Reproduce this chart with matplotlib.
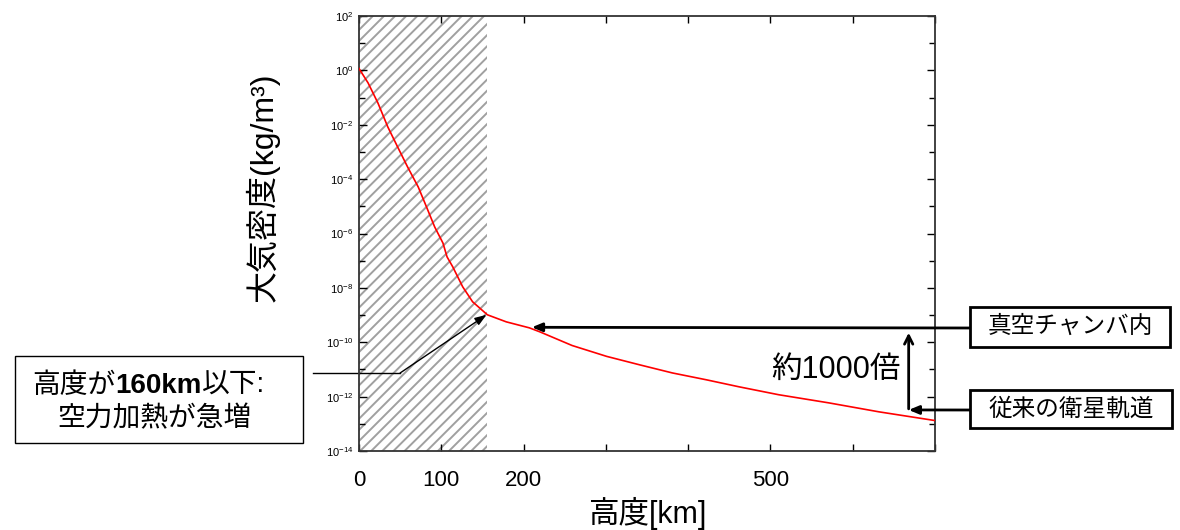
import numpy as np
import matplotlib
matplotlib.use("Agg")
import matplotlib.pyplot as plt
from matplotlib.patches import Rectangle
from matplotlib.ticker import FixedLocator, NullFormatter

plt.rcParams['font.family'] = ['Liberation Sans', 'Noto Sans CJK JP', 'DejaVu Sans']
plt.rcParams['hatch.linewidth'] = 1.4

# =========================
# DATA
# =========================
alt_km = [0, 1, 11, 23, 35, 47, 59, 72, 82, 92, 102, 107, 114, 126, 138, 156,
          179, 207, 220, 259, 301, 341, 381, 422, 462, 510, 571, 632, 700]
log_rho = [0.07, 0.02, -0.46, -1.20, -2.08, -2.82, -3.55, -4.29, -5.02, -5.76,
           -6.35, -6.86, -7.23, -7.96, -8.51, -8.99, -9.25, -9.47, -9.62,
           -10.12, -10.52, -10.83, -11.13, -11.38, -11.64, -11.93, -12.23,
           -12.56, -12.88]
rho = 10.0 ** np.array(log_rho)

heat_limit_km = 155
x_ticks = [0, 100, 200, 300, 400, 500, 600, 700]
x_ticklabels = ['0', '100', '200', '', '', '500', '', '']
y_major = [10.0 ** k for k in range(-14, 3, 2)]
y_minor = [10.0 ** k for k in range(-13, 2, 2)]

W, H = 1180, 530
def fx(px):
    return px / W
def fy(py):
    return 1 - py / H

fig = plt.figure(figsize=(W / 100, H / 100), dpi=100)
ax = fig.add_axes([fx(359), fy(451), fx(935) - fx(359), fy(16) - fy(451)])

# hatched region (below 160 km)
ax.axvspan(0, heat_limit_km, facecolor='white', edgecolor='#a0a0a0',
           hatch='///', linewidth=0, zorder=0)

ax.plot(alt_km, rho, color='red', lw=1.2, zorder=3)

ax.set_yscale('log')
ax.set_xlim(0, 700)
ax.set_ylim(1e-14, 1e2)
ax.set_xticks(x_ticks)
ax.set_xticklabels(x_ticklabels, fontsize=16)
ax.yaxis.set_major_locator(FixedLocator(y_major))
ax.yaxis.set_minor_locator(FixedLocator(y_minor))
ax.yaxis.set_minor_formatter(NullFormatter())
ax.tick_params(axis='both', which='both', direction='in', top=True, right=True)
ax.tick_params(axis='x', which='major', length=5, width=1, pad=14)
ax.tick_params(axis='y', which='major', length=6, width=1, labelsize=8, pad=4)
ax.tick_params(axis='y', which='minor', length=4, width=1)
for s in ax.spines.values():
    s.set_linewidth(1.3)
    s.set_color('#333333')

# axis labels
fig.text(fx(263), fy(187), '大気密度(kg/m³)', rotation=90, ha='center',
         va='center', fontsize=23)
fig.text(fx(647), fy(513), '高度[km]', ha='center', va='center', fontsize=22)

# =========================
# ANNOTATIONS
# =========================
arrow_solid = dict(arrowstyle='-|>,head_length=0.6,head_width=0.25',
                   color='black', lw=2, shrinkA=0, shrinkB=0)

# vacuum chamber box
fig.add_artist(Rectangle((fx(970), fy(347)), fx(1170) - fx(970), fy(307) - fy(347),
                         transform=fig.transFigure, fc='white', ec='black', lw=2))
fig.text(fx(1070), fy(327), '真空チャンバ内', ha='center', va='center', fontsize=17)
ax.annotate('', xy=(210, 10 ** -9.45), xycoords='data',
            xytext=(970, H - 328), textcoords='figure pixels',
            arrowprops=arrow_solid, annotation_clip=False)

# conventional orbit box
fig.add_artist(Rectangle((fx(970), fy(428)), fx(1172) - fx(970), fy(390) - fy(428),
                         transform=fig.transFigure, fc='white', ec='black', lw=2))
fig.text(fx(1071), fy(409), '従来の衛星軌道', ha='center', va='center', fontsize=17)
ax.annotate('', xy=(668, 10 ** -12.49), xycoords='data',
            xytext=(970, H - 410), textcoords='figure pixels',
            arrowprops=arrow_solid, annotation_clip=False)

# factor 1000 arrow
ax.annotate('', xy=(668, 10 ** -9.65), xytext=(668, 10 ** -12.45),
            arrowprops=dict(arrowstyle='->,head_length=0.6,head_width=0.3',
                            color='black', lw=2, shrinkA=0, shrinkB=0))
ax.text(658, 10 ** -11.0, '約1000倍', ha='right', va='center', fontsize=22)

# heating box
fig.add_artist(Rectangle((fx(15), fy(443)), fx(303) - fx(15), fy(356) - fy(443),
                         transform=fig.transFigure, fc='white', ec='black', lw=1))
t1 = fig.text(fx(32), fy(386), '高度が', ha='left', va='center', fontsize=20)
t2 = fig.text(0, 0, '160km', fontsize=20, fontweight='bold', ha='left', va='center')
t3 = fig.text(0, 0, '以下:', fontsize=20, ha='left', va='center')
fig.canvas.draw()
r = fig.canvas.get_renderer()
bb1 = t1.get_window_extent(r)
t2.set_position((bb1.x1 / W, fy(386)))
bb2 = t2.get_window_extent(r)
t3.set_position((bb2.x1 / W, fy(386)))
fig.text(fx(154), fy(419), '空力加熱が急増', ha='center', va='center', fontsize=20)

ax.plot([-56, 50], [10 ** -11.13, 10 ** -11.13], color='black', lw=1, clip_on=False)
ax.annotate('', xy=(155, 10 ** -8.99), xytext=(50, 10 ** -11.13),
            arrowprops=dict(arrowstyle='-|>,head_length=0.7,head_width=0.25',
                            color='black', lw=1, shrinkA=0, shrinkB=0))

fig.savefig('out.png', dpi=100)
